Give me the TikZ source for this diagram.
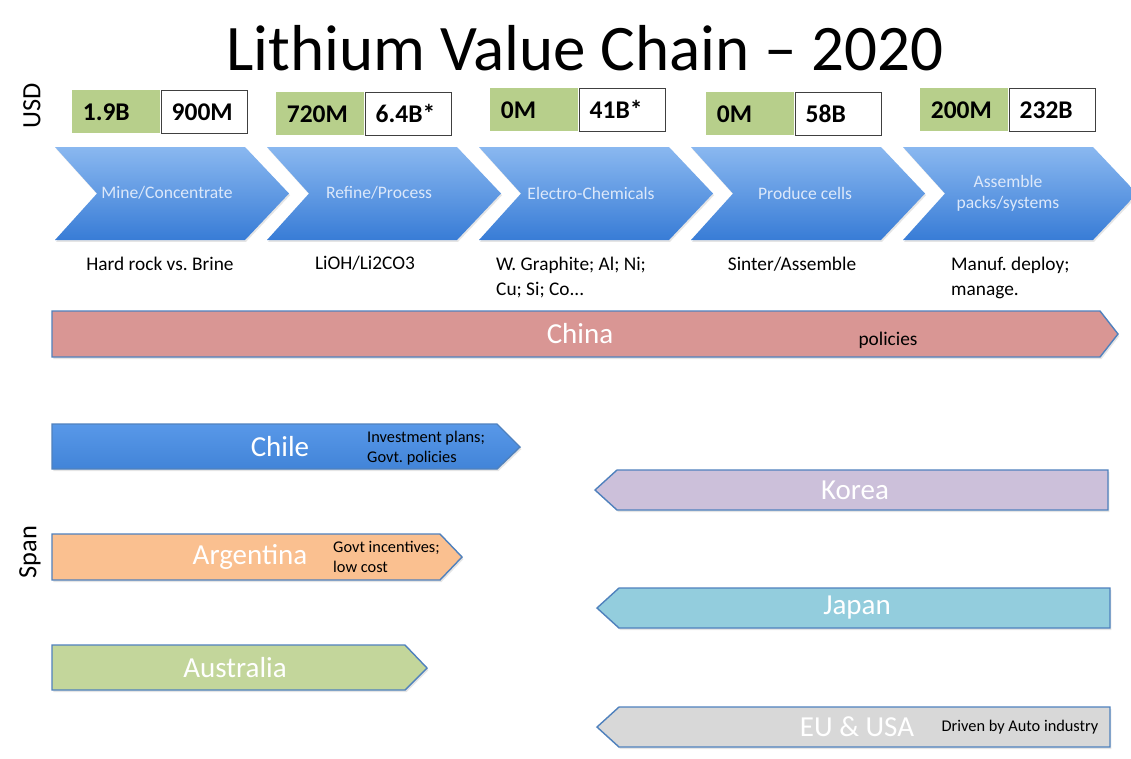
\documentclass[tikz,border=0pt]{standalone}
\usepackage{fontspec}
\setmainfont{Carlito}
\usetikzlibrary{positioning,shadows}
\frenchspacing

\definecolor{boxgreen}{RGB}{183,207,139}
\definecolor{chevtop}{RGB}{138,184,240}
\definecolor{chevbot}{RGB}{56,124,214}
\definecolor{chevtext}{RGB}{220,232,250}
\definecolor{edgeblue}{RGB}{79,129,189}
\definecolor{chinared}{RGB}{217,150,148}
\definecolor{chiletop}{RGB}{88,152,232}
\definecolor{chilebot}{RGB}{66,132,216}
\definecolor{argorange}{RGB}{250,192,144}
\definecolor{ausgreen}{RGB}{195,214,155}
\definecolor{korealilac}{RGB}{204,192,218}
\definecolor{japancyan}{RGB}{147,205,221}
\definecolor{eugrey}{RGB}{216,216,216}

\begin{document}
\begin{tikzpicture}[x=0.02cm,y=-0.02cm,
    chevron/.style={top color=chevtop,bottom color=chevbot,drop shadow={opacity=0.2,shadow xshift=0.6pt,shadow yshift=-1pt}},
    chevron text/.style={text=chevtext,font=\fontsize{10}{12}\selectfont,align=center},
    green box/.style={fill=boxgreen,anchor=north west,minimum height=0.86cm,text width=1.34cm,inner xsep=0.21cm,align=left,font=\fontsize{14.5}{16}\selectfont\bfseries},
    white box/.style={draw=black!75,fill=white,line width=0.6pt,minimum height=0.86cm,text width=1.3cm,inner xsep=0.21cm,align=left,font=\fontsize{14.5}{16}\selectfont\bfseries},
    step note/.style={font=\fontsize{11}{14}\selectfont,align=left},
    bar/.style={draw=edgeblue,line width=0.8pt,drop shadow={opacity=0.2,shadow xshift=0.8pt,shadow yshift=-1.2pt}},
    country/.style={text=white,font=\fontsize{16.5}{18}\selectfont},
    bar note/.style={font=\fontsize{9.3}{11.4}\selectfont,align=left},
    side label/.style={rotate=90,font=\fontsize{15}{16}\selectfont}]

    \fill[white] (0,0) rectangle (1131,758);
    \useasboundingbox (0,0) rectangle (1131,758);

    \node[font=\fontsize{37}{40}\selectfont] at (585,48) (title) {Lithium Value Chain -- 2020};
    \node[side label] at (32,106) (usd) {USD};
    \node[side label] at (30,552) (span) {Span};

    % value boxes
    \node[green box] at (72,90) (g1) {1.9B};
    \node[white box,right=0pt of g1] (w1) {900M};
    \node[green box] at (276,92) (g2) {720M};
    \node[white box,right=0pt of g2] (w2) {6.4B*};
    \node[green box] at (490,88) (g3) {0M};
    \node[white box,right=0pt of g3] (w3) {41B*};
    \node[green box] at (706,92) (g4) {0M};
    \node[white box,right=0pt of g4] (w4) {58B};
    \node[green box] at (920,88) (g5) {200M};
    \node[white box,right=0pt of g5] (w5) {232B};

    % value chain steps
    \path[chevron] (55,147) -- ++(190,0) -- ++(44,46.5) -- ++(-44,46.5) -- ++(-190,0) -- ++(42,-46.5) -- cycle;
    \path[chevron] (267,147) -- ++(190,0) -- ++(44,46.5) -- ++(-44,46.5) -- ++(-190,0) -- ++(42,-46.5) -- cycle;
    \path[chevron] (479,147) -- ++(190,0) -- ++(44,46.5) -- ++(-44,46.5) -- ++(-190,0) -- ++(42,-46.5) -- cycle;
    \path[chevron] (691,147) -- ++(190,0) -- ++(44,46.5) -- ++(-44,46.5) -- ++(-190,0) -- ++(42,-46.5) -- cycle;
    \path[chevron] (903,147) -- ++(190,0) -- ++(44,46.5) -- ++(-44,46.5) -- ++(-190,0) -- ++(42,-46.5) -- cycle;
    \node[chevron text] at (167,193) (s1) {Mine/Concentrate};
    \node[chevron text] at (379,193) (s2) {Refine/Process};
    \node[chevron text] at (591,193) (s3) {Electro-Chemicals};
    \node[chevron text] at (805,193) (s4) {Produce cells};
    \node[chevron text] at (1008,193) (s5) {Assemble\\packs/systems};

    \node[step note] at (160,264) (n1) {Hard rock vs. Brine};
    \node[step note] at (365,263) (n2) {LiOH/Li2CO3};
    \node[step note,anchor=north west] at (490,251) (n3) {W. Graphite; Al; Ni;\\Cu; Si; Co...};
    \node[step note] at (792,264) (n4) {Sinter/Assemble};
    \node[step note,anchor=north west] at (945,251) (n5) {Manuf. deploy;\\manage.};

    % countries
    \path[bar,fill=chinared] (52,311) -- (1100,311) -- (1118,334) -- (1100,357) -- (52,357) -- cycle;
    \node[country] at (580,334) (china) {China};
    \node[font=\fontsize{11}{13}\selectfont] at (888,340) (chinanote) {policies};

    \path[bar,top color=chiletop,bottom color=chilebot] (52,424) -- (497,424) -- (520,447) -- (497,469) -- (52,469) -- cycle;
    \node[country] at (280,447) (chile) {Chile};
    \node[bar note,anchor=west] at (361,448) (chilenote) {Investment plans;\\Govt. policies};

    \path[bar,fill=argorange] (52,534) -- (440,534) -- (462,557) -- (440,580) -- (52,580) -- cycle;
    \node[country] at (250,557) (argentina) {Argentina};
    \node[bar note,anchor=west] at (327,557) (argnote) {Govt incentives;\\low cost};

    \path[bar,fill=ausgreen] (52,645) -- (405,645) -- (427,668) -- (405,690) -- (52,690) -- cycle;
    \node[country] at (235,668) (australia) {Australia};

    \path[bar,fill=korealilac] (595,490) -- (617,470) -- (1108,470) -- (1108,510) -- (617,510) -- cycle;
    \node[country] at (855,490) (korea) {Korea};

    \path[bar,fill=japancyan] (597,608) -- (619,588) -- (1110,588) -- (1110,628) -- (619,628) -- cycle;
    \node[country] at (857,608) (japan) {Japan};

    \path[bar,fill=eugrey] (597,727) -- (619,707) -- (1110,707) -- (1110,747) -- (619,747) -- cycle;
    \node[country] at (857,727) (eu) {EU \& USA};
    \node[bar note] at (1020,727) (eunote) {Driven by Auto industry};
\end{tikzpicture}
\end{document}
